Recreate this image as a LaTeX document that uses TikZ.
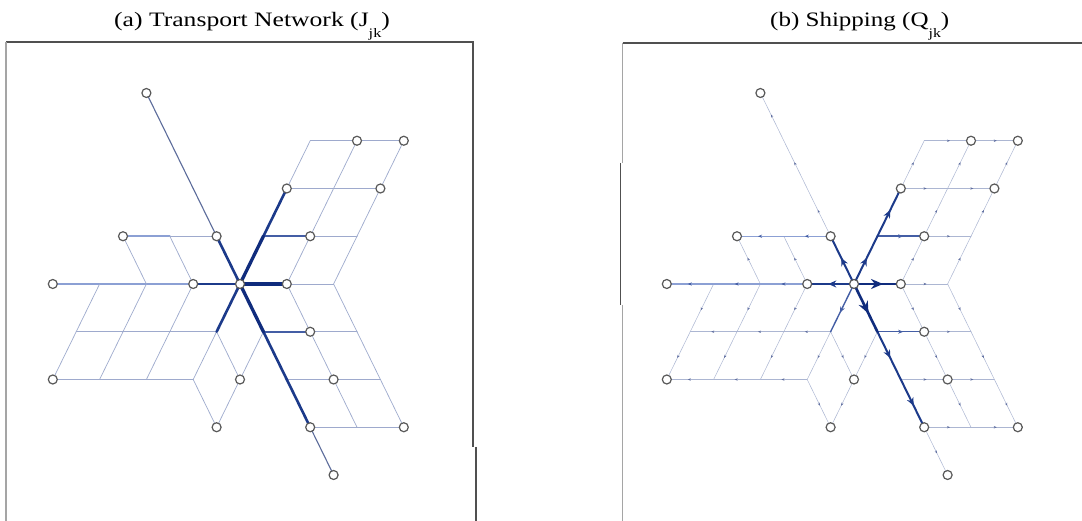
\documentclass[tikz,border=0pt]{standalone}
\usepackage{graphicx}
\usepackage{fontspec}
\setmainfont{Liberation Serif}
\usetikzlibrary{arrows.meta,decorations.markings}

\definecolor{thinA}{RGB}{158,170,205}
\definecolor{medL}{RGB}{140,160,212}
\definecolor{medA}{RGB}{92,108,155}
\definecolor{medB}{RGB}{68,94,165}
\definecolor{boldA}{RGB}{28,58,138}
\definecolor{boldB}{RGB}{16,44,125}
\definecolor{thinB}{RGB}{172,182,210}
\definecolor{markB}{RGB}{95,110,160}
\definecolor{frameD}{RGB}{80,80,80}
\definecolor{frameL}{RGB}{165,165,165}

\tikzset{
  latline/.style={line cap=round},
  eat/.style={latline, draw=thinA, line width=0.7pt},
  eaml/.style={latline, draw=medL, line width=1.6pt},
  eam/.style={latline, draw=medA, line width=1.1pt},
  eamm/.style={latline, draw=medB, line width=1.9pt},
  eab/.style={latline, draw=boldA, line width=2.6pt},
  eabb/.style={latline, draw=boldB, line width=3.3pt},
  flowmark/.style n args={4}{postaction={decorate}, decoration={markings,
      mark=at position #1 with {\arrow{Stealth[length=#2,width=#3,color=#4]}}}},
  ebt/.style={latline, draw=thinB, line width=0.5pt, flowmark={0.55}{3pt}{2.4pt}{markB}},
  ebml/.style={latline, draw=medL, line width=1.1pt, flowmark={0.55}{4pt}{3.2pt}{medB}},
  ebm/.style={latline, draw=medB, line width=1.5pt, flowmark={0.55}{5pt}{4pt}{medB}},
  ebms/.style={latline, draw=medB, line width=1.4pt, flowmark={0.6}{6pt}{5pt}{medB}},
  ebbs/.style={latline, draw=boldA, line width=2pt, flowmark={0.55}{8pt}{7pt}{boldA}},
  ebbR/.style={latline, draw=boldB, line width=2.6pt, flowmark={0.62}{12pt}{10pt}{boldB}},
  nd/.style={circle, draw=black!65, fill=white, line width=1.2pt, inner sep=0pt, minimum size=9pt},
  ttl/.style={anchor=base west, inner sep=0pt},
  frm/.style={draw=frameD, line width=1.3pt},
  frml/.style={draw=frameL, line width=1.2pt}
}

% #1 prefix, #2 x of centre
\newcommand\latpts[2]{%
  \foreach \i in {-8,...,7} {
    \foreach \j in {-4,...,4} {
      \coordinate (#1X\i Y\j) at ({#2+\i*23.4},{237+\j*47.75});
    }
  }
}
% #1 prefix, #2 edge list x1/y1/x2/y2/style
\newcommand\latsegs[2]{%
  \foreach \xa/\ya/\xb/\yb/\st in {#2} {
    \pgfmathtruncatemacro\ddx{(\xb)-(\xa)}
    \pgfmathtruncatemacro\ddy{(\yb)-(\ya)}
    \pgfmathtruncatemacro\nn{max(abs(\ddy),abs(\ddx)/2)}
    \pgfmathtruncatemacro\sx{(\ddx)/(\nn)}
    \pgfmathtruncatemacro\sy{(\ddy)/(\nn)}
    \foreach \k in {1,...,\nn} {
      \pgfmathtruncatemacro\xs{(\xa)+(\k-1)*(\sx)}
      \pgfmathtruncatemacro\ys{(\ya)+(\k-1)*(\sy)}
      \pgfmathtruncatemacro\xf{(\xa)+(\k)*(\sx)}
      \pgfmathtruncatemacro\yf{(\ya)+(\k)*(\sy)}
      \draw[\st] (#1X\xs Y\ys) -- (#1X\xf Y\yf);
    }
  }
}
\newcommand\latnodes[1]{%
  \foreach \i/\j in {-4/4,5/3,7/3,2/2,6/2,-5/1,-1/1,3/1,-8/0,-2/0,0/0,2/0,3/-1,-8/-2,0/-2,4/-2,-1/-3,3/-3,7/-3,4/-4} {
    \node[nd] (#1n\i Y\j) at (#1X\i Y\j) {};
  }
}

\begin{document}
\begin{tikzpicture}[x=1pt,y=1pt]
\useasboundingbox (0,0) rectangle (1082,521);
\fill[white] (0,0) rectangle (1082,521);

% titles
\node[ttl] (ta) at (114,494) {\scalebox{1.25}[1]{\fontsize{20.5}{24}\selectfont (a) Transport Network (J\raisebox{-0.5em}{\fontsize{13}{13}\selectfont jk})}};
\node[ttl] (tb) at (770,494) {\scalebox{1.22}[1]{\fontsize{20.5}{24}\selectfont (b) Shipping (Q\raisebox{-0.5em}{\fontsize{13}{13}\selectfont jk})}};

% frames
\draw[frm] (473,74) -- (473,479) -- (6,479);
\draw[frml] (6,479) -- (6,0);
\draw[frm] (476,74) -- (476,0);
\draw[frm] (622.5,478) -- (1082,478);
\draw[frml] (622.5,478) -- (622.5,358);
\draw[frm] (620.5,358) -- (620.5,216);
\draw[frml] (622.5,216) -- (622.5,0);

% ---------- panel (a)
\latpts{a}{240}
\latsegs{a}{-8/0/-2/0/eaml, -5/1/-3/1/eaml, -3/1/-1/1/eat,
  3/1/5/1/eat, 2/2/6/2/eat, 3/3/7/3/eat, 2/0/4/0/eat,
  -7/-1/-1/-1/eat, 3/-1/5/-1/eat, -8/-2/-2/-2/eat, 2/-2/6/-2/eat, 3/-3/7/-3/eat,
  2/0/5/3/eat, 4/0/7/3/eat, -4/0/-6/-2/eat, -6/0/-8/-2/eat, -2/0/-4/-2/eat,
  -1/-3/0/-2/eat, 0/-2/1/-1/eat,
  -5/1/-4/0/eat, -3/1/-2/0/eat, 2/0/5/-3/eat, 4/0/7/-3/eat, -1/-1/0/-2/eat, -2/-2/-1/-3/eat,
  2/2/3/3/eat, -1/-1/-2/-2/eat,
  -4/4/-1/1/eam, 3/-3/4/-4/eam,
  1/1/3/1/eamm, 1/-1/3/-1/eamm,
  -1/1/0/0/eab, 1/-1/3/-3/eab, 1/1/2/2/eab, 0/0/-1/-1/eab, -2/0/0/0/eab,
  0/0/1/-1/eabb, 0/0/1/1/eabb, 0/0/2/0/eabb}
\latnodes{a}

% ---------- panel (b)
\latpts{b}{854}
\latsegs{b}{-1/1/-4/4/ebt, 3/-3/4/-4/ebt, 2/2/3/3/ebt, -1/-1/-2/-2/ebt, 2/0/4/0/ebt,
  3/1/5/1/ebt, 2/2/6/2/ebt, 3/3/7/3/ebt, -1/-1/-7/-1/ebt, 3/-1/5/-1/ebt,
  -2/-2/-8/-2/ebt, 2/-2/6/-2/ebt, 3/-3/7/-3/ebt,
  2/0/5/3/ebt, 4/0/7/3/ebt, -4/0/-6/-2/ebt, -6/0/-8/-2/ebt, -2/0/-4/-2/ebt,
  0/-2/-1/-3/ebt, 1/-1/0/-2/ebt, -4/0/-5/1/ebt, -2/0/-3/1/ebt,
  2/0/5/-3/ebt, 4/0/7/-3/ebt, -1/-1/0/-2/ebt, -2/-2/-1/-3/ebt,
  -2/0/-8/0/ebml, -1/1/-5/1/ebml,
  1/1/3/1/ebm, 1/-1/3/-1/ebm,
  0/0/-1/-1/ebms,
  1/-1/3/-3/ebbs, 0/0/1/1/ebbs, 1/1/2/2/ebbs, 0/0/-2/0/ebbs, 0/0/-1/1/ebbs,
  0/0/1/-1/ebbR, 0/0/2/0/ebbR}
\latnodes{b}
\end{tikzpicture}
\end{document}
